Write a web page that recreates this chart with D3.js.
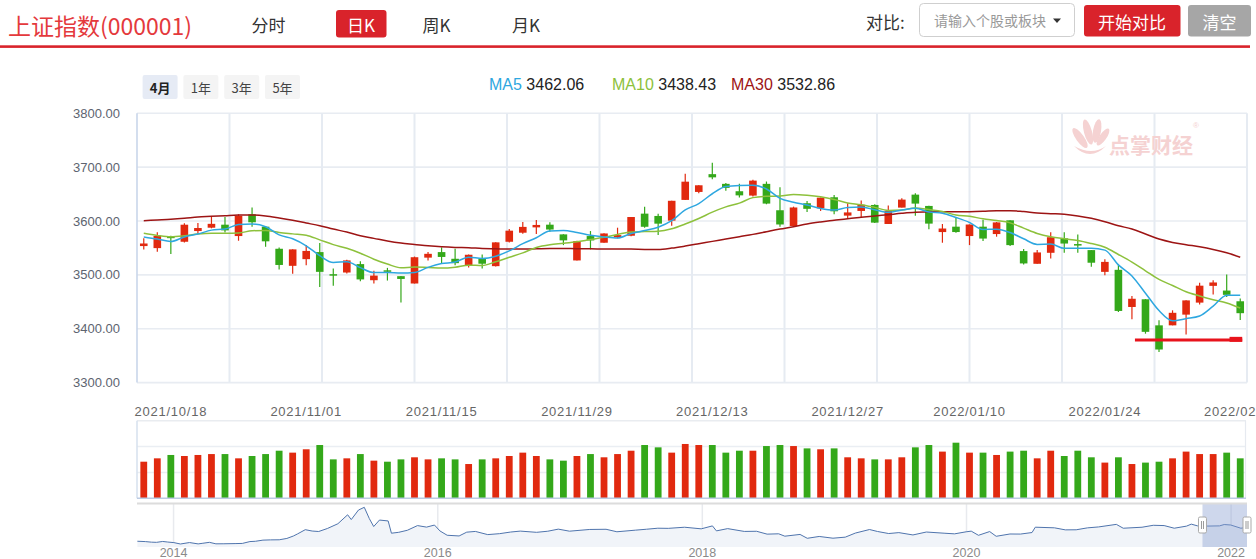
<!DOCTYPE html>
<html><head><meta charset="utf-8">
<script src="https://cdn.jsdelivr.net/npm/d3@7/dist/d3.min.js"></script>
<style>
html,body{margin:0;padding:0;background:#fff;overflow:hidden}
svg{display:block}
</style></head>
<body><svg id="c" width="1256" height="559"></svg>
<script>
// ---------------- DATA ----------------
const dates = ["2021/10/14","2021/10/15","2021/10/18","2021/10/19","2021/10/20","2021/10/21","2021/10/22","2021/10/25","2021/10/26","2021/10/27","2021/10/28","2021/10/29",
"2021/11/01","2021/11/02","2021/11/03","2021/11/04","2021/11/05","2021/11/08","2021/11/09","2021/11/10","2021/11/11","2021/11/12","2021/11/15","2021/11/16","2021/11/17","2021/11/18","2021/11/19","2021/11/22","2021/11/23","2021/11/24","2021/11/25","2021/11/26","2021/11/29","2021/11/30",
"2021/12/01","2021/12/02","2021/12/03","2021/12/06","2021/12/07","2021/12/08","2021/12/09","2021/12/10","2021/12/13","2021/12/14","2021/12/15","2021/12/16","2021/12/17","2021/12/20","2021/12/21","2021/12/22","2021/12/23","2021/12/24","2021/12/27","2021/12/28","2021/12/29","2021/12/30","2021/12/31",
"2022/01/04","2022/01/05","2022/01/06","2022/01/07","2022/01/10","2022/01/11","2022/01/12","2022/01/13","2022/01/14","2022/01/17","2022/01/18","2022/01/19","2022/01/20","2022/01/21","2022/01/24","2022/01/25","2022/01/26","2022/01/27","2022/01/28",
"2022/02/07","2022/02/08","2022/02/09","2022/02/10","2022/02/11","2022/02/14"];

const opens = [3553.5,3549.7,3571.5,3561.5,3581.4,3587.6,3593.2,3572.1,3612.5,3589.5,
3548.5,3516.8,3529.2,3542.3,3501.3,3504.4,3520.0,3490.1,3508.5,3497.6,
3484.0,3532.0,3542.3,3529.9,3516.8,3529.9,3516.2,3561.5,3578.3,3588.2,
3593.2,3575.2,3526.8,3572.1,3559.7,3569.6,3572.7,3613.7,3609.4,3600.7,
3639.2,3654.0,3687.0,3669.0,3655.3,3647.2,3669.0,3620.0,3590.7,3633.0,
3623.6,3644.1,3610.0,3618.7,3629.8,3594.5,3624.9,3649.0,3628.0,3579.5,
3589.5,3572.1,3589.5,3575.8,3601.3,3544.2,3520.6,3541.0,3567.8,3557.2,
3546.0,3505.6,3509.4,3440.4,3454.7,3406.3,3406.3,3426.2,3448.5,3479.6,
3470.9,3451.0];
const closes = [3558.28,3572.37,3568.17,3593.15,3587.00,3594.78,3582.60,3609.86,3597.64,3562.31,
3518.42,3547.34,3544.48,3505.63,3498.54,3526.87,3491.57,3498.63,3507.00,3492.46,
3532.79,3539.10,3533.30,3521.79,3537.37,3520.71,3560.37,3582.08,3589.09,3592.70,
3584.18,3564.09,3562.70,3563.89,3576.89,3573.84,3607.43,3589.31,3595.09,3637.57,
3673.04,3666.35,3681.08,3661.53,3647.63,3675.02,3632.36,3593.60,3625.13,3622.62,
3643.34,3618.05,3615.97,3630.11,3597.00,3619.19,3639.78,3632.33,3595.18,3586.08,
3579.54,3593.52,3567.44,3597.43,3555.26,3521.26,3541.67,3569.91,3558.18,3555.06,
3522.57,3524.11,3433.06,3455.67,3394.25,3361.44,3429.58,3452.63,3479.95,3485.91,
3462.95,3428.88];
const lows = [3547.3,3543.0,3538.6,3560.3,3575.8,3586.4,3578.9,3563.4,3589.5,3552.2,
3510.0,3502.0,3518.1,3477.7,3479.6,3502.5,3488.3,3484.0,3489.5,3448.5,
3484.0,3526.8,3520.6,3518.0,3513.7,3511.9,3515.6,3560.3,3576.4,3575.8,
3580.2,3555.3,3526.8,3547.3,3559.7,3567.8,3571.5,3587.6,3574.0,3591.3,
3639.2,3651.6,3677.7,3656.0,3643.5,3645.4,3631.1,3589.5,3589.5,3616.8,
3618.7,3612.5,3603.8,3606.9,3596.3,3594.5,3624.9,3610.0,3584.5,3559.7,
3578.3,3555.3,3562.8,3570.9,3553.5,3519.3,3520.6,3530.5,3541.0,3541.0,
3515.0,3499.4,3431.1,3417.5,3390.8,3356.6,3406.3,3389.5,3444.8,3463.4,
3459.0,3416.2];
const highs = [3567.8,3579.0,3572.5,3595.7,3596.3,3609.4,3607.5,3612.5,3624.9,3590.0,
3551.0,3547.6,3555.3,3559.0,3512.0,3528.0,3525.5,3507.5,3513.0,3498.0,
3534.0,3542.3,3551.0,3548.5,3537.8,3537.9,3560.6,3585.0,3598.2,3601.9,
3597.5,3575.5,3563.4,3581.4,3577.3,3587.6,3607.6,3626.7,3613.7,3637.8,
3687.6,3666.6,3708.0,3670.8,3669.0,3676.4,3673.3,3662.8,3626.7,3637.3,
3643.5,3648.5,3633.0,3637.9,3631.0,3628.6,3642.3,3651.6,3628.2,3594.5,
3606.9,3593.6,3602.5,3598.2,3601.5,3548.0,3546.0,3579.0,3579.0,3575.2,
3546.2,3529.2,3519.3,3460.9,3455.0,3415.6,3434.2,3452.8,3485.2,3490.1,
3500.7,3456.0];
const volumes = [283,309,335,327,335,342,342,309,327,342,
368,353,379,412,301,309,342,291,283,301,
317,301,309,301,265,301,309,327,353,327,
301,291,327,342,317,342,368,412,394,353,
420,412,412,353,368,368,404,412,404,386,
379,386,317,309,301,301,317,394,412,361,
430,353,353,335,361,368,309,368,327,368,
317,276,317,265,276,283,309,361,342,342,
353,309];
const ma5 = [3570.5,3566.5,3562.0,3570.5,3575.79,3583.09,3585.14,3593.48,3594.38,3589.44,
3574.17,3567.11,3554.04,3535.64,3522.88,3524.57,3513.42,3504.25,3504.52,3503.31,
3504.49,3514.00,3520.93,3523.89,3532.87,3530.45,3534.71,3544.46,3557.92,3568.99,
3581.68,3582.43,3578.55,3573.51,3570.35,3568.28,3576.95,3582.27,3588.51,3600.65,
3620.49,3632.27,3650.63,3663.91,3665.93,3666.32,3659.52,3642.03,3634.75,3629.75,
3623.41,3620.55,3625.02,3626.02,3620.89,3616.06,3620.41,3623.68,3616.70,3614.51,
3606.58,3597.33,3584.35,3584.80,3578.64,3566.98,3556.61,3557.11,3549.26,3549.22,
3549.48,3545.97,3518.60,3498.09,3465.93,3433.71,3414.80,3418.71,3423.57,3441.90,
3462.20,3462.06];
const ma10 = [3577.1,3573.3,3570.9,3572.7,3575.8,3577.1,3577.1,3577.7,3582.0,3582.62,
3578.63,3576.13,3573.76,3565.01,3556.16,3549.37,3540.27,3529.14,3520.08,3513.09,
3514.53,3513.71,3512.59,3514.21,3518.09,3517.47,3524.35,3532.70,3540.91,3550.93,
3556.07,3558.57,3561.51,3565.72,3569.67,3574.98,3579.69,3580.41,3581.01,3585.50,
3594.39,3604.61,3616.45,3626.21,3633.29,3643.41,3645.90,3646.33,3649.33,3647.84,
3644.87,3640.04,3633.53,3630.38,3625.32,3619.74,3620.48,3624.35,3621.36,3617.70,
3611.32,3608.87,3604.02,3600.75,3596.58,3586.78,3576.97,3570.73,3567.03,3563.93,
3558.23,3551.29,3537.85,3523.68,3507.57,3491.59,3480.38,3468.66,3460.83,3453.92,
3447.96,3438.43];
const ma30 = [3600.7,3601.9,3603.1,3605.0,3607.5,3608.7,3610.0,3611.2,3611.2,3609.4,
3605.6,3601.3,3596.3,3591.3,3585.1,3579.5,3572.7,3567.8,3562.8,3559.0,
3556.6,3554.1,3552.2,3551.0,3550.4,3549.1,3548.5,3547.9,3547.9,3548.5,
3549.1,3549.1,3548.5,3548.5,3547.9,3547.9,3547.9,3547.3,3547.3,3549.7,
3553.5,3557.8,3562.2,3566.5,3570.9,3575.2,3580.2,3585.1,3589.5,3594.5,
3598.2,3601.3,3604.4,3606.9,3609.4,3611.8,3614.3,3616.2,3616.8,3617.4,
3617.4,3617.4,3618.0,3619.3,3619.3,3617.5,3615.0,3613.7,3612.5,3609.4,
3605.0,3598.8,3591.3,3585.1,3575.8,3566.5,3560.3,3556.0,3552.2,3547.3,
3541.1,3532.86];

const xTickLabels = ["2021/10/18","2021/11/01","2021/11/15","2021/11/29","2021/12/13","2021/12/27","2022/01/10","2022/01/24","2022/02/14"];
const yTicks = [3300,3400,3500,3600,3700,3800];
const volTicks = [0,200,400,600];
const maNames = ["MA5","MA10","MA30"];
const maLast = ["3462.06","3438.43","3532.86"];
const supportLine = {value:3379, from:"2022/01/26", to:"2022/02/14"};

const navDates = ["2013-09-23","2013-10-15","2013-11-01","2013-11-15","2013-12-02","2013-12-16","2014-01-02","2014-01-20","2014-02-14","2014-03-10","2014-03-21","2014-04-10","2014-04-28","2014-05-20","2014-06-20","2014-07-10","2014-07-31","2014-08-15","2014-09-05","2014-09-26","2014-10-20","2014-11-10","2014-11-28","2014-12-09","2014-12-31",
"2015-01-19","2015-02-06","2015-03-02","2015-03-31","2015-04-27","2015-05-07","2015-05-27","2015-06-12","2015-06-26","2015-07-08","2015-07-24","2015-08-17","2015-08-26","2015-09-15","2015-10-09","2015-11-06","2015-12-01","2015-12-23",
"2016-01-07","2016-01-27","2016-02-29","2016-03-21","2016-04-14","2016-05-18","2016-06-20","2016-07-20","2016-08-16","2016-09-30","2016-10-31","2016-11-29","2016-12-30",
"2017-02-24","2017-04-10","2017-05-10","2017-06-30","2017-07-31","2017-08-31","2017-09-29","2017-11-13","2017-12-29",
"2018-01-29","2018-02-09","2018-03-12","2018-04-27","2018-05-31","2018-06-29","2018-07-31","2018-08-17","2018-09-28","2018-10-18","2018-11-20","2018-12-28",
"2019-01-31","2019-02-28","2019-04-08","2019-04-30","2019-05-31","2019-06-28","2019-08-06","2019-09-12","2019-10-31","2019-11-29","2019-12-31",
"2020-01-14","2020-02-03","2020-03-05","2020-03-23","2020-04-30","2020-05-29","2020-06-30","2020-07-09","2020-08-31","2020-09-30","2020-10-30","2020-11-30","2020-12-31",
"2021-02-18","2021-03-09","2021-04-30","2021-05-31","2021-06-30","2021-07-28","2021-08-31","2021-09-13","2021-09-30","2021-10-29","2021-11-30","2021-12-13","2021-12-31","2022-01-28","2022-02-14"];
const navValues = [2230,2200,2150,2135,2210,2160,2110,1991,2115,1999,2047,2134,2005,2010,2026,2040,2201,2226,2326,2347,2356,2473,2683,2856,3234,
3116,3075,3336,3748,4527,4112,4941,5178,4192,3507,4070,3993,2927,3005,3183,3590,3456,3636,
3125,2750,2688,3018,3082,2807,2888,3027,3110,3005,3100,3282,3104,
3253,3269,3052,3192,3273,3361,3349,3447,3307,
3562,3129,3326,3082,3095,2847,2876,2669,2821,2486,2645,2494,
2585,2941,3247,3078,2899,2979,2777,3031,2929,2872,3050,
3106,2746,3071,2660,2860,2852,2985,3450,3396,3218,3225,3392,3473,
3696,3360,3447,3615,3591,3361,3544,3716,3568,3547,3564,3681,3640,3361,3429];
const navYears = [2014,2016,2018,2020,2022];

// ---------------- DRAW ----------------
const svg = d3.select("#c");
const CJK = "'Noto Sans CJK SC','Microsoft YaHei',sans-serif";
const LAT = "Arial,'Liberation Sans','Noto Sans CJK SC',sans-serif";
const RED = "#e1290f", GREEN = "#34a81a";

// ---- header ----
const hdr = svg.append("g");
hdr.append("text").attr("x",8).attr("y",25).attr("dominant-baseline","central")
  .attr("font-family",CJK).attr("font-size",23).attr("fill","#e4393c").text("上证指数(000001)");
const tabs = [{t:"分时",c:268.5,on:false},{t:"日K",c:361,on:true},{t:"周K",c:436.5,on:false},{t:"月K",c:526,on:false}];
tabs.forEach(tb=>{
  if(tb.on) hdr.append("rect").attr("x",336).attr("y",10).attr("width",50.5).attr("height",27.5).attr("rx",3).attr("fill","#d9232b");
  hdr.append("text").attr("x",tb.c).attr("y",24).attr("text-anchor","middle").attr("dominant-baseline","central")
    .attr("font-family",CJK).attr("font-size",17).attr("fill",tb.on?"#fff":"#333").text(tb.t);
});
hdr.append("text").attr("x",866).attr("y",21).attr("dominant-baseline","central")
  .attr("font-family",CJK).attr("font-size",17).attr("fill","#333").text("对比:");
hdr.append("rect").attr("x",919.5).attr("y",3.5).attr("width",155).attr("height",33).attr("rx",4)
  .attr("fill","#fff").attr("stroke","#cfcfcf");
svg.append("clipPath").attr("id","inclip").append("rect").attr("x",925).attr("y",0).attr("width",126).attr("height",40);
hdr.append("text").attr("x",934).attr("y",20).attr("dominant-baseline","central").attr("clip-path","url(#inclip)")
  .attr("font-family",CJK).attr("font-size",14).attr("fill","#999").text("请输入个股或板块");
hdr.append("path").attr("d","M1053,18.5 L1061,18.5 L1057,23 Z").attr("fill","#333");
hdr.append("rect").attr("x",1084).attr("y",5).attr("width",96.5).attr("height",31.5).attr("rx",3).attr("fill","#d9232b");
hdr.append("text").attr("x",1132).attr("y",21).attr("text-anchor","middle").attr("dominant-baseline","central")
  .attr("font-family",CJK).attr("font-size",17).attr("fill","#fff").text("开始对比");
hdr.append("rect").attr("x",1188).attr("y",5).attr("width",63).attr("height",31.5).attr("rx",3).attr("fill","#a6a6a6");
hdr.append("text").attr("x",1219.5).attr("y",21).attr("text-anchor","middle").attr("dominant-baseline","central")
  .attr("font-family",CJK).attr("font-size",17).attr("fill","#fff").text("清空");
hdr.append("rect").attr("x",0).attr("y",45.3).attr("width",1250).attr("height",2.6).attr("fill","#d9232b");

// range buttons
const ranges = ["4月","1年","3年","5年"];
ranges.forEach((r,i)=>{
  const bx = 142.6 + i*40.8;
  hdr.append("rect").attr("x",bx).attr("y",75).attr("width",35).attr("height",24).attr("rx",2)
    .attr("fill", i===0?"#e6ebf5":"#f4f4f4");
  hdr.append("text").attr("x",bx+17.5).attr("y",87).attr("text-anchor","middle").attr("dominant-baseline","central")
    .attr("font-family",CJK).attr("font-size",13).attr("font-weight",i===0?"bold":"normal")
    .attr("fill",i===0?"#222":"#444").text(r);
});

// legend
const maColors = ["#2ea7e0","#8dc13c","#9d1414"];
const legX = [489,612,731];
maNames.forEach((n,i)=>{
  const t = hdr.append("text").attr("x",legX[i]).attr("y",84).attr("dominant-baseline","central")
    .attr("font-family",LAT).attr("font-size",16);
  t.append("tspan").attr("fill",maColors[i]).text(n);
  t.append("tspan").attr("fill","#222").text(" "+maLast[i]);
});

// ---- scales ----
const plotL = 137, plotR = 1247;
const x = d3.scaleBand().domain(dates).range([plotL, plotR]).padding(0);
const bw = x.bandwidth();
const cx = d => x(d) + bw/2;
const y = d3.scaleLinear().domain([3300,3800]).range([382.6,113.3]);
const yv = d3.scaleLinear().domain([0,600]).range([498.3,420.7]);

// ---- main grid ----
const grid = svg.append("g");
yTicks.forEach(v=>{
  grid.append("line").attr("x1",plotL).attr("x2",plotR).attr("y1",y(v)).attr("y2",y(v))
    .attr("stroke","#e8ecf2").attr("stroke-width",1.6);
  grid.append("text").attr("x",120).attr("y",y(v)).attr("text-anchor","end").attr("dominant-baseline","central")
    .attr("font-family",LAT).attr("font-size",13).attr("fill","#5d6470").text(v.toFixed(2));
});
for(let k=1;k<=12;k++){
  const gx = plotL + k*(plotR-plotL)/12;
  grid.append("line").attr("x1",gx).attr("x2",gx).attr("y1",y(3800)).attr("y2",y(3300))
    .attr("stroke","#e6ebf2").attr("stroke-width",2);
}
grid.append("line").attr("x1",plotL).attr("x2",plotL).attr("y1",y(3800)).attr("y2",y(3300))
  .attr("stroke","#c9d6ea").attr("stroke-width",1.6);

// x labels
xTickLabels.forEach(l=>{
  grid.append("text").attr("x",cx(l)).attr("y",411).attr("text-anchor","middle").attr("dominant-baseline","central")
    .attr("font-family",LAT).attr("font-size",13).attr("letter-spacing","0.75px").attr("fill","#666").text(l);
});

// ---- watermark ----
const wm = svg.append("g").attr("fill","#f5d2d2");
[[1080,138,4,12,-35],[1088,132,4,13,-15],[1097,131,4,12,10],[1103,137,3.5,10,35]].forEach(e=>{
  wm.append("ellipse").attr("cx",e[0]).attr("cy",e[1]).attr("rx",e[2]).attr("ry",e[3])
    .attr("transform",`rotate(${e[4]},${e[0]},${e[1]})`);
});
wm.append("path").attr("d","M1074,146 Q1090,162 1106,146 Q1092,156 1074,146 Z");
wm.append("text").attr("x",1109).attr("y",144).attr("dominant-baseline","central")
  .attr("font-family",CJK).attr("font-size",21).attr("font-weight","bold").text("点掌财经");
wm.append("text").attr("x",1193).attr("y",128).attr("font-family",LAT).attr("font-size",8).text("®");

// ---- candles ----
const cg = svg.append("g");
dates.forEach((d,i)=>{
  const up = closes[i] >= opens[i];
  const col = up ? RED : GREEN;
  const c = cx(d);
  cg.append("line").attr("x1",c).attr("x2",c).attr("y1",y(highs[i])).attr("y2",y(lows[i]))
    .attr("stroke",col).attr("stroke-width",1.2);
  const top = y(Math.max(opens[i],closes[i])), bot = y(Math.min(opens[i],closes[i]));
  cg.append("rect").attr("x",c-3.8).attr("y",top).attr("width",7.6).attr("height",Math.max(1.5,bot-top))
    .attr("fill",col);
});

// ---- MA lines ----
const mg = svg.append("g").attr("fill","none");
[ma30,ma10,ma5].forEach((arr,k)=>{
  const colr = [maColors[2],maColors[1],maColors[0]][k];
  const ln = d3.line().x((v,i)=>cx(dates[i])).y(v=>y(v)).curve(d3.curveMonotoneX);
  mg.append("path").attr("d",ln(arr)).attr("stroke",colr).attr("stroke-width",1.5);
});

// ---- support annotation ----
const sy = y(supportLine.value);
const sx1 = cx(supportLine.from)+3, sx2 = cx(supportLine.to)+2;
svg.append("line").attr("x1",sx1).attr("x2",sx2).attr("y1",sy).attr("y2",sy)
  .attr("stroke","#e8131c").attr("stroke-width",3);
svg.append("rect").attr("x",sx2-12.7).attr("y",sy-3.2).attr("width",12.7).attr("height",5)
  .attr("fill","#e8131c");

// ---- volume panel ----
const vg = svg.append("g");
vg.append("line").attr("x1",plotL).attr("x2",plotR-1).attr("y1",yv(600)).attr("y2",yv(600)).attr("stroke","#e9ecf0").attr("stroke-width",1.5);
[200,400].forEach(v=>vg.append("line").attr("x1",plotL).attr("x2",plotR-1).attr("y1",yv(v)).attr("y2",yv(v)).attr("stroke","#eaeef3").attr("stroke-width",1.5));
vg.append("line").attr("x1",plotL).attr("x2",plotL).attr("y1",yv(600)).attr("y2",yv(0)).attr("stroke","#d6e0ee").attr("stroke-width",1.5);
vg.append("line").attr("x1",plotR-1.5).attr("x2",plotR-1.5).attr("y1",yv(600)).attr("y2",yv(0)).attr("stroke","#e6eaf0").attr("stroke-width",1.2);
dates.forEach((d,i)=>{
  const up = closes[i] >= opens[i];
  vg.append("rect").attr("x",cx(d)-3.4).attr("y",yv(volumes[i])).attr("width",6.8)
    .attr("height",yv(0)-yv(volumes[i])).attr("fill",up?RED:GREEN);
});
vg.append("line").attr("x1",plotL).attr("x2",plotR-1).attr("y1",yv(0)).attr("y2",yv(0)).attr("stroke","#bccbe3").attr("stroke-width",1.5);

// ---- navigator ----
const parseN = d3.timeParse("%Y-%m-%d");
const nd = navDates.map(parseN);
const xn = d3.scaleTime().domain([new Date(2013,8,22), new Date(2022,1,14)]).range([plotL, plotR]);
const yn = d3.scaleLinear().domain([1990,5178]).range([544,507.3]);
const ng = svg.append("g");
navYears.forEach(yr=>{
  const gx = xn(new Date(yr,0,1));
  ng.append("line").attr("x1",gx).attr("x2",gx).attr("y1",504).attr("y2",547).attr("stroke","#e8eaee").attr("stroke-width",1.5);
  ng.append("text").attr("x",gx).attr("y",553).attr("text-anchor","middle").attr("dominant-baseline","central")
    .attr("font-family",LAT).attr("font-size",12.5).attr("fill","#8a8a8a").text(yr);
});
const area = d3.area().x((v,i)=>xn(nd[i])).y0(547).y1(v=>yn(v));
ng.append("path").attr("d",area(navValues)).attr("fill","#f1f4f9");
const nline = d3.line().x((v,i)=>xn(nd[i])).y(v=>yn(v));
ng.append("path").attr("d",nline(navValues)).attr("fill","none").attr("stroke","#4f74ad").attr("stroke-width",1);
// selected window
const wx1 = xn(new Date(dates[0])), wx2 = xn(new Date(dates[dates.length-1]));
ng.append("rect").attr("x",wx1).attr("y",504).attr("width",wx2-wx1).attr("height",43)
  .attr("fill","#8aa0d2").attr("opacity",0.42);
[wx1, wx2].forEach(hx=>{
  ng.append("rect").attr("x",hx-4).attr("y",517).attr("width",8).attr("height",16).attr("rx",1.5)
    .attr("fill","#fff").attr("stroke","#a9a9a9").attr("stroke-width",1);
  ng.append("line").attr("x1",hx-1).attr("x2",hx-1).attr("y1",521).attr("y2",529).attr("stroke","#999");
  ng.append("line").attr("x1",hx+1).attr("x2",hx+1).attr("y1",521).attr("y2",529).attr("stroke","#999");
});
ng.append("line").attr("x1",plotL).attr("x2",plotR).attr("y1",503.6).attr("y2",503.6).attr("stroke","#dcdcdc").attr("stroke-width",2);
</script>
</body></html>
